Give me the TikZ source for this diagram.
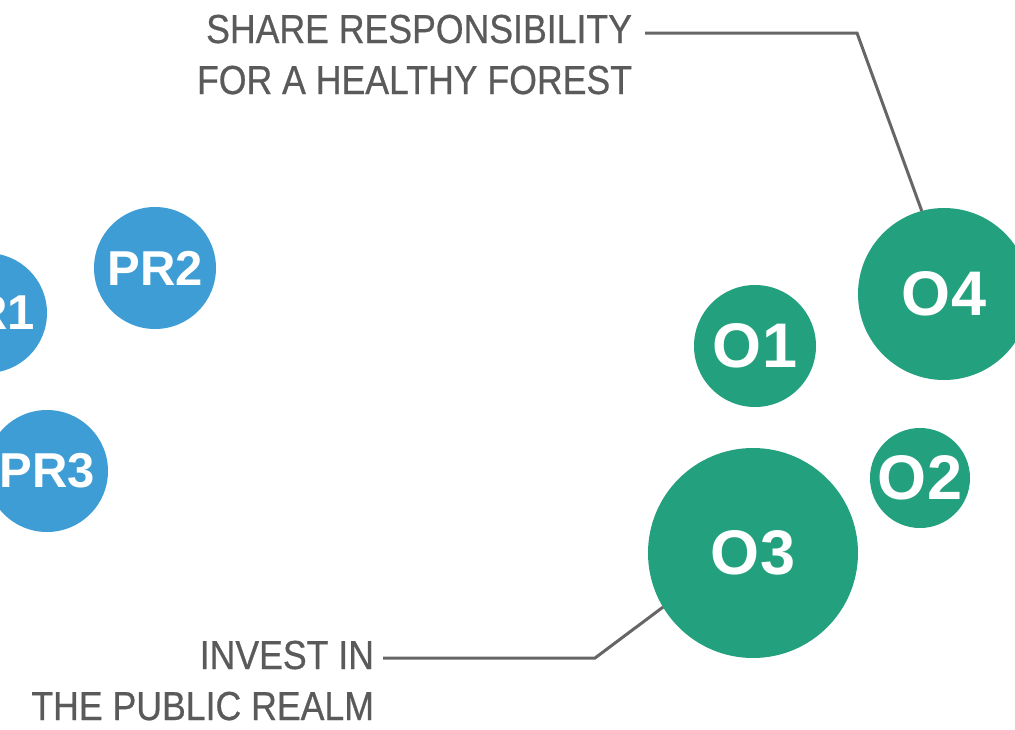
\documentclass[tikz,border=0pt]{standalone}
\usepackage{fontspec}
\setmainfont{Liberation Sans}
\newfontfamily\lblfont[FakeStretch=0.88,FakeBold=0.6]{Liberation Sans}
\definecolor{prblue}{RGB}{61,157,212}
\definecolor{ogreen}{RGB}{35,161,126}
\definecolor{txtgray}{RGB}{90,90,90}
\definecolor{linegray}{RGB}{102,102,102}
\begin{document}
\begin{tikzpicture}[x=1pt,y=-1pt,
  bub/.style={circle,fill=#1,draw=none,inner sep=0pt,outer sep=0pt,text=white},
  prlbl/.style={font=\fontsize{49}{49}\selectfont\bfseries},
  olbl/.style={font=\fontsize{63}{63}\selectfont\bfseries},
  lbl/.style={font=\lblfont\fontsize{40.5}{40.5}\selectfont,text=txtgray,inner sep=0pt,outer sep=0pt},
  conn/.style={draw=linegray,line width=3pt}]
\useasboundingbox (0,0) rectangle (1015,729);
\clip (0,0) rectangle (1015,729);
% blue bubbles
\node[bub=prblue,prlbl,minimum size=120pt] (PR1) at (-13,313) {PR1};
\node[bub=prblue,prlbl,minimum size=122pt] (PR2) at (155,268) {PR2};
\node[bub=prblue,prlbl,minimum size=122pt] (PR3) at (47,471) {PR3};
% green bubbles
\node[bub=ogreen,olbl,minimum size=122pt] (O1) at (755,346) {O1};
\node[bub=ogreen,olbl,minimum size=100pt] (O2) at (920,478) {O2};
\node[bub=ogreen,olbl,minimum size=210pt] (O3) at (753,553) {O3};
\node[bub=ogreen,olbl,minimum size=172pt] (O4) at (944,294) {O4};
% labels
\node[lbl,anchor=base east] (t1) at (632,43) {SHARE RESPONSIBILITY};
\node[lbl,anchor=base east] (t2) at (632,94) {FOR A HEALTHY FOREST};
\node[lbl,anchor=base east] (b1) at (374,669) {INVEST IN};
\node[lbl,anchor=base east] (b2) at (374,720) {THE PUBLIC REALM};
% connectors
\coordinate (c1) at (645,33);
\coordinate (c1b) at (857,33);
\coordinate (c2) at (383,658);
\coordinate (c2b) at (595,658);
\draw[conn] (c1) -- (c1b) -- (O4.105.6);
\draw[conn] (c2) -- (c2b) -- (O3.211.5);
\end{tikzpicture}
\end{document}
